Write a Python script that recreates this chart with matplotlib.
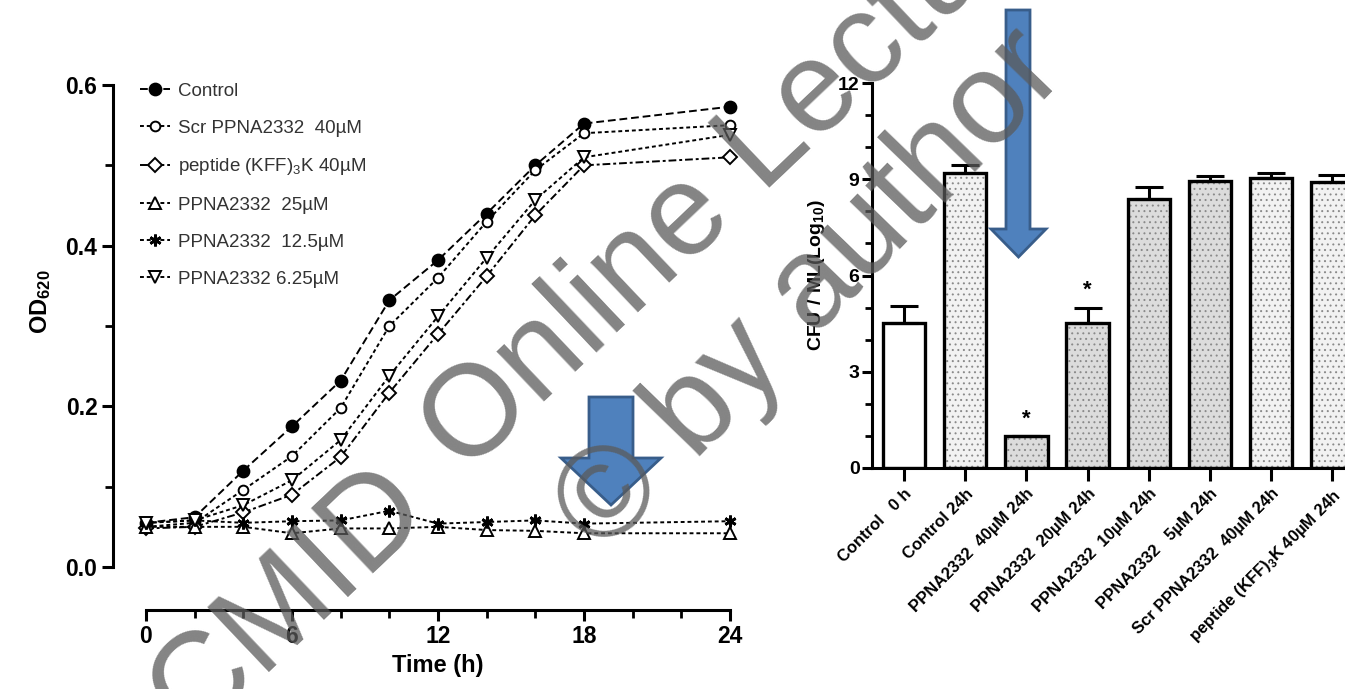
import matplotlib
matplotlib.use("Agg")
import matplotlib.pyplot as plt
from matplotlib.patches import Polygon
from matplotlib.ticker import MultipleLocator

plt.rcParams["font.family"] = ["Liberation Sans", "DejaVu Sans"]
plt.rcParams["mathtext.fontset"] = "custom"
plt.rcParams["mathtext.rm"] = "Liberation Sans"
plt.rcParams["mathtext.bf"] = "Liberation Sans:bold"
plt.rcParams["hatch.linewidth"] = 0.7

W, H = 1345, 689

# ---- growth curves (OD620) ----
time_h = [0, 2, 4, 6, 8, 10, 12, 14, 16, 18, 24]
od_control = [0.055, 0.062, 0.120, 0.175, 0.232, 0.332, 0.382, 0.440, 0.500, 0.552, 0.573]
od_scr40 = [0.050, 0.055, 0.096, 0.138, 0.198, 0.300, 0.360, 0.430, 0.494, 0.540, 0.550]
od_kff40 = [0.048, 0.050, 0.068, 0.090, 0.137, 0.217, 0.290, 0.362, 0.438, 0.500, 0.510]
od_p25 = [0.050, 0.050, 0.050, 0.042, 0.048, 0.048, 0.050, 0.046, 0.045, 0.042, 0.042]
od_p12 = [0.055, 0.058, 0.055, 0.057, 0.058, 0.070, 0.054, 0.056, 0.058, 0.054, 0.057]
od_p6 = [0.055, 0.058, 0.077, 0.108, 0.158, 0.238, 0.312, 0.385, 0.457, 0.510, 0.538]

curve_labels = ["Control", "Scr PPNA2332  40µM", r"peptide (KFF)$_{3}$K 40µM",
                "PPNA2332  25µM", "PPNA2332  12.5µM", "PPNA2332 6.25µM"]

# ---- CFU bars ----
bar_labels = ["Control   0 h", "Control 24h", "PPNA2332  40µM 24h", "PPNA2332  20µM 24h",
              "PPNA2332  10µM 24h", "PPNA2332   5µM 24h", "Scr PPNA2332  40µM 24h",
              r"peptide (KFF)$_\mathbf{3}$K 40µM 24h"]
cfu = [4.51, 9.19, 1.00, 4.52, 8.39, 8.96, 9.04, 8.90]
cfu_err = [0.55, 0.26, 0.0, 0.48, 0.38, 0.15, 0.15, 0.23]
starred = [2, 3]

fig = plt.figure(figsize=(W / 100, H / 100), dpi=100)

# ---------------- left panel ----------------
ax = fig.add_axes([146 / W, 122 / H, 584 / W, 482 / H])
styles = [
    dict(marker="o", mfc="black", ls=(0, (4, 2))),
    dict(marker="o", mfc="white", ls=(0, (2, 1.5)), ms=7),
    dict(marker="D", mfc="white", ls=(0, (4, 1.5, 1.5, 1.5)), ms=7.5),
    dict(marker="^", mfc="white", ls=(0, (2, 1.5))),
    dict(marker=(6, 2, 0), mfc="black", ls=(0, (2, 1.5)), mew=2),
    dict(marker="v", mfc="white", ls=(0, (2, 1.5))),
]
series = [od_control, od_scr40, od_kff40, od_p25, od_p12, od_p6]
for vals, lab, st in zip(series, curve_labels, styles):
    kw = dict(color="black", lw=1.4, ms=8.5, mec="black", mew=1.4, clip_on=False)
    kw.update(st)
    ax.plot(time_h, vals, label=lab, **kw)

ax.set_xlim(0, 24)
ax.set_ylim(0, 0.6)
ax.spines["top"].set_visible(False)
ax.spines["right"].set_visible(False)
ax.spines["left"].set_position(("outward", 24))
ax.spines["bottom"].set_position(("outward", 31))
for s in ("left", "bottom"):
    ax.spines[s].set_linewidth(2.2)
ax.spines["left"].set_bounds(0, 0.6)
ax.spines["bottom"].set_bounds(0, 24)
ax.set_xticks([0, 6, 12, 18, 24])
ax.xaxis.set_minor_locator(MultipleLocator(2))
ax.set_yticks([0.0, 0.2, 0.4, 0.6])
ax.set_yticklabels(["0.0", "0.2", "0.4", "0.6"])
ax.yaxis.set_minor_locator(MultipleLocator(0.1))
ax.tick_params(which="major", length=8, width=2.2, labelsize=16.5, pad=3)
ax.tick_params(which="minor", length=6, width=2.0)
for t in ax.get_xticklabels() + ax.get_yticklabels():
    t.set_fontweight("bold")
ax.set_xlabel("Time (h)", fontsize=17, fontweight="bold", labelpad=4)
ax.set_ylabel(r"$\mathbf{OD_{620}}$", fontsize=17)
ax.yaxis.set_label_coords(-0.16, 0.55)
leg = ax.legend(loc="upper left", bbox_to_anchor=(-0.04, 1.04), frameon=False,
                fontsize=13.5, handlelength=1.6, handletextpad=0.45, labelspacing=1.05)
for t in leg.get_texts():
    t.set_color("#333333")

# ---------------- right panel ----------------
ax2 = fig.add_axes([872 / W, 221 / H, (W - 872) / W, 385 / H])
xs = list(range(len(cfu)))
fills = ["white", "#f2f2f2", "#dcdcdc", "#dcdcdc", "#dcdcdc", "#dcdcdc", "#f2f2f2", "#f2f2f2"]
hatches = ["", "...", "...", "...", "...", "...", "...", "..."]
bw = 0.69
ax2.bar(xs, cfu, bw, color=fills, edgecolor="#8a8a8a", linewidth=0, hatch=hatches, zorder=2)
ax2.bar(xs, cfu, bw, color="none", edgecolor="black", linewidth=2.4, zorder=3)
ax2.errorbar(xs, cfu, yerr=[[0] * len(cfu), cfu_err], fmt="none", ecolor="black",
             elinewidth=2.2, capsize=10, capthick=2.2, zorder=4)
for i in starred:
    ax2.text(xs[i], cfu[i] + cfu_err[i] + 0.2, "*", ha="center", va="bottom",
             fontsize=16, fontweight="bold")

ax2.set_xlim(-0.523, 7.206)
ax2.set_ylim(0, 12)
ax2.spines["top"].set_visible(False)
ax2.spines["right"].set_visible(False)
for s in ("left", "bottom"):
    ax2.spines[s].set_linewidth(2.2)
ax2.set_yticks([0, 3, 6, 9, 12])
ax2.yaxis.set_minor_locator(MultipleLocator(1))
ax2.set_xticks(xs)
ax2.set_xticklabels(bar_labels, rotation=45, ha="right", rotation_mode="anchor",
                    fontsize=12, fontweight="bold")
ax2.tick_params(axis="y", which="major", length=7, width=2.2, labelsize=14, pad=2)
ax2.tick_params(axis="y", which="minor", length=5, width=2.0)
ax2.tick_params(axis="x", length=9, width=2.2, pad=4)
for t in ax2.get_yticklabels():
    t.set_fontweight("bold")
ax2.set_ylabel(r"$\mathbf{CFU\ /\ ML(Log_{10})}$", fontsize=14, labelpad=8)

# ---------------- annotations ----------------
def arrow(x0, x1, top, head_top, tip, hx0, hx1):
    pts = [(x0, top), (x1, top), (x1, head_top), (hx1, head_top),
           ((hx0 + hx1) / 2, tip), (hx0, head_top), (x0, head_top)]
    pts = [(px / W, 1 - py / H) for px, py in pts]
    fig.add_artist(Polygon(pts, closed=True, transform=fig.transFigure,
                           facecolor="#4f81bd", edgecolor="#385d8a", lw=2, zorder=11))

arrow(1006, 1030, 10, 229, 257, 991, 1046)
arrow(589, 633, 397, 458, 505, 561, 661)

mark = dict(rotation_mode="anchor", va="baseline", color="#5a5a5a", alpha=0.75,
            zorder=12, fontsize=93)
fig.text(431 / W, 1 - 509 / H, "ESCMID", rotation=43.5, ha="right", **mark)
fig.text(465 / W, 1 - 476 / H, "Online Lecture Library", rotation=43.5, ha="left", **mark)
fig.text(604 / W, 1 - 556 / H, "© by author", rotation=46, ha="left", **mark)

fig.savefig("out.png", dpi=100)
